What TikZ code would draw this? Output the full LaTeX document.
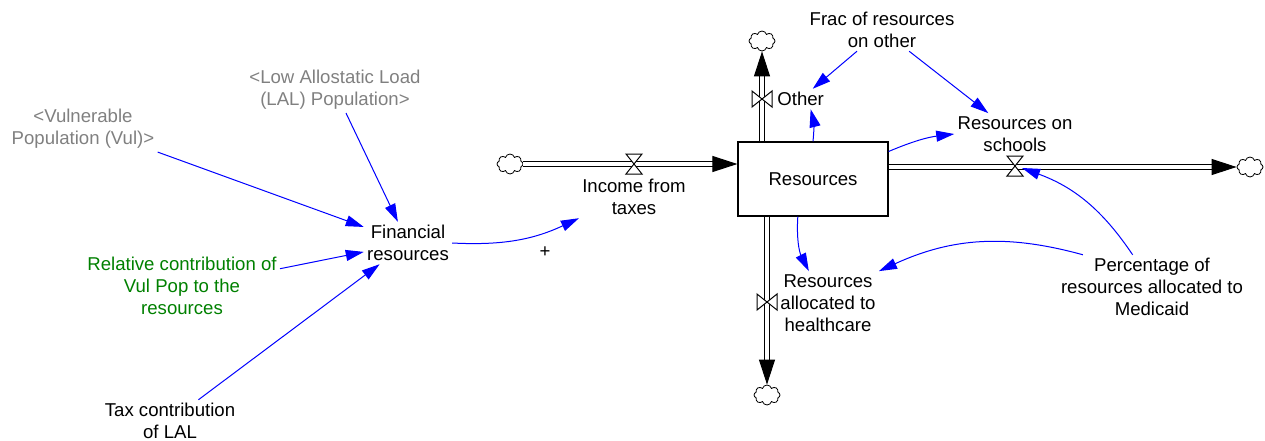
\documentclass[tikz,border=0pt]{standalone}
\usepackage{fontspec}
\setmainfont{Liberation Sans}
\usetikzlibrary{arrows.meta,shapes.symbols}
\definecolor{shadowgray}{RGB}{128,128,128}
\definecolor{constgreen}{RGB}{0,128,0}
\tikzset{
  varlabel/.style={align=center, inner sep=1.5pt, font=\fontsize{9.3}{11}\selectfont},
  shadowvar/.style={varlabel, text=shadowgray},
  constvar/.style={varlabel, text=constgreen},
  stockbox/.style={draw, line width=0.6pt, minimum width=75pt, minimum height=37pt, inner sep=0pt, font=\fontsize{9.3}{11}\selectfont},
  cloudsink/.style={cloud, cloud puffs=8, draw, line width=0.4pt, minimum width=13pt, minimum height=10pt, inner sep=0pt},
  flowpipe/.style={double, double distance=1.7pt, line width=0.5pt, -{Triangle[length=12.5pt,width=8pt]}},
  link/.style={blue, line width=0.5pt, -{Triangle[length=9pt,width=5.5pt]}},
  valve/.pic={\draw[line width=0.5pt, fill=white] (-4pt,5pt) -- (4pt,5pt) -- (-4pt,-5pt) -- (4pt,-5pt) -- cycle;}
}
\begin{document}
\begin{tikzpicture}[x=0.5pt, y=-0.5pt]
  \useasboundingbox (0,0) rectangle (1265,440);
  % Estoque
  \node[stockbox] (res) at (813,179) {Resources};
  % Nuvens
  \node[cloudsink] (srcInc) at (510,164) {};
  \node[cloudsink] (snkOth) at (762,41) {};
  \node[cloudsink] (snkHea) at (767,395) {};
  \node[cloudsink] (snkSch) at (1250,167) {};
  % Fluxos
  \draw[flowpipe] (srcInc.east) -- (res.west |- srcInc.east);
  \draw[flowpipe] (res.north -| snkOth) -- (snkOth.south);
  \draw[flowpipe] (res.south -| snkHea) -- (snkHea.north);
  \draw[flowpipe] (res.east |- snkSch) -- (snkSch.west);
  \pic at (634,164) {valve};
  \pic[rotate=90] at (762,99) {valve};
  \pic[rotate=90] at (767,302) {valve};
  \pic at (1015,166) {valve};
  \coordinate (vSch) at (1022,168);
  % Variaveis
  \node[varlabel] (inc) at (634,197) {Income from\\taxes};
  \node[varlabel, anchor=west] (oth) at (774,99) {Other};
  \node[varlabel] (hea) at (828,303) {Resources\\allocated to\\healthcare};
  \node[varlabel] (sch) at (1015,134) {Resources on\\schools};
  \node[varlabel] (frac) at (882,30) {Frac of resources\\on other};
  \node[varlabel] (pct) at (1152,287) {Percentage of\\resources allocated to\\Medicaid};
  \node[varlabel] (fin) at (408,243) {Financial\\resources};
  \node[shadowvar] (lal) at (335,90) {<Low Allostatic Load\\(LAL) Population>};
  \node[shadowvar] (vul) at (83,129) {<Vulnerable\\Population (Vul)>};
  \node[constvar] (rel) at (182,286) {Relative contribution of\\Vul Pop to the\\resources};
  \node[varlabel] (tax) at (170,421) {Tax contribution\\of LAL};
  \node[varlabel] (plus) at (545,252) {+};
  % Ligacoes
  \draw[link] (vul.south east) -- (fin);
  \draw[link] (lal) -- (fin);
  \draw[link] (rel.10) -- (fin);
  \draw[link] (tax) -- (fin);
  \draw[link] (fin.east) to[bend right=14] (inc.south west);
  \draw[link] (res.north) to[bend right=10] ([xshift=5pt]oth.south);
  \draw[link] (frac) -- (oth);
  \draw[link] (frac) -- (sch);
  \draw[link] (res.20) to[bend left=8] (sch.west);
  \draw[link] (res.-112) to[bend right=15] (hea.121);
  \draw[link] (pct.155) to[bend right=20] (hea.north east);
  \draw[link] (pct.121) to[bend right=18] (vSch);
\end{tikzpicture}
\end{document}
